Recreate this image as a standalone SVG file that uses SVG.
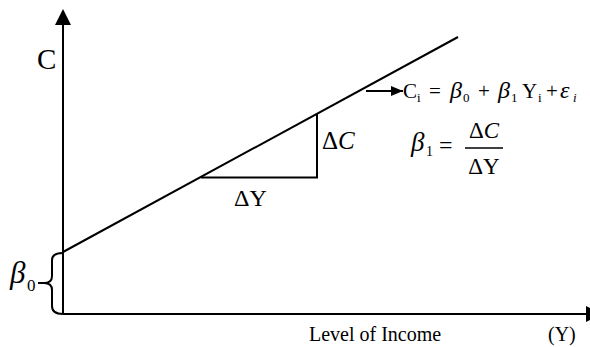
<svg xmlns="http://www.w3.org/2000/svg" width="590" height="347" viewBox="0 0 590 347">
<style>
  .ln{stroke:#000;stroke-width:2;fill:none}
  .t{font-family:"Liberation Serif","Times New Roman",serif;fill:#000}
  .it{font-style:italic}
</style>
<defs>
  <marker id="ah" markerWidth="12" markerHeight="10" refX="12" refY="5" orient="auto" markerUnits="userSpaceOnUse">
    <path d="M0,0 L12,5 L0,10 Z" fill="#000"/>
  </marker>
</defs>
<rect width="590" height="347" fill="#fff"/>
<g id="connectors">
  <line class="ln" x1="63" y1="24" x2="63" y2="313"/>
  <path d="M63,9 L55,25 L71,25 Z" fill="#000"/>
  <line class="ln" x1="63" y1="314" x2="590" y2="314"/>
  <path d="M586,306 L602,314 L586,322 Z" fill="#000"/>
  <line class="ln" x1="63" y1="252" x2="458" y2="37"/>
  <polyline class="ln" points="201,177.5 317,177.5 317,114"/>
  <line class="ln" x1="366" y1="91" x2="403" y2="91" marker-end="url(#ah)"/>
  <path class="ln" d="M63,253 Q52,253 52,260 L52,276 Q52,283 44,283 L38,283 M44,283 Q52,283 52,290 L52,306 Q52,314 63,314"/>
</g>
<g id="axis-c-label"><text class="t" x="37" y="69" font-size="29">C</text></g>
<g id="beta0-label"><text class="t it" x="10" y="283" font-size="31">β</text><text class="t" x="27" y="291" font-size="17">0</text></g>
<g id="x-axis-label">
  <text class="t" x="309" y="341" font-size="20">Level of Income</text>
  <text class="t" x="548" y="341" font-size="20">(Y)</text>
</g>
<g id="delta-y-label"><text class="t" x="234" y="206" font-size="24">ΔY</text></g>
<g id="delta-c-label"><text class="t" x="322" y="149" font-size="25">Δ<tspan class="it">C</tspan></text></g>
<g id="equation">
  <text class="t" font-size="21" y="98">
    <tspan x="403">C</tspan><tspan x="429">=</tspan><tspan x="450" class="it" font-size="24">β</tspan><tspan x="478">+</tspan><tspan x="498" class="it" font-size="24">β</tspan><tspan x="522">Y</tspan><tspan x="546">+</tspan><tspan x="560" class="it" font-size="24">ε</tspan>
  </text>
  <text class="t" font-size="13" y="102">
    <tspan x="417">i</tspan><tspan x="463">0</tspan><tspan x="511">1</tspan><tspan x="538">i</tspan><tspan x="573" class="it">i</tspan>
  </text>
</g>
<g id="slope-formula">
  <text class="t it" x="411" y="151" font-size="27">β</text>
  <text class="t" x="426" y="156" font-size="14">1</text>
  <text class="t" x="439" y="153" font-size="24">=</text>
  <text class="t" x="484" y="138" font-size="23" text-anchor="middle">Δ<tspan class="it">C</tspan></text>
  <line x1="465" y1="148" x2="503" y2="148" stroke="#000" stroke-width="1.3"/>
  <text class="t" x="484" y="174" font-size="23" text-anchor="middle">ΔY</text>
</g>
</svg>
